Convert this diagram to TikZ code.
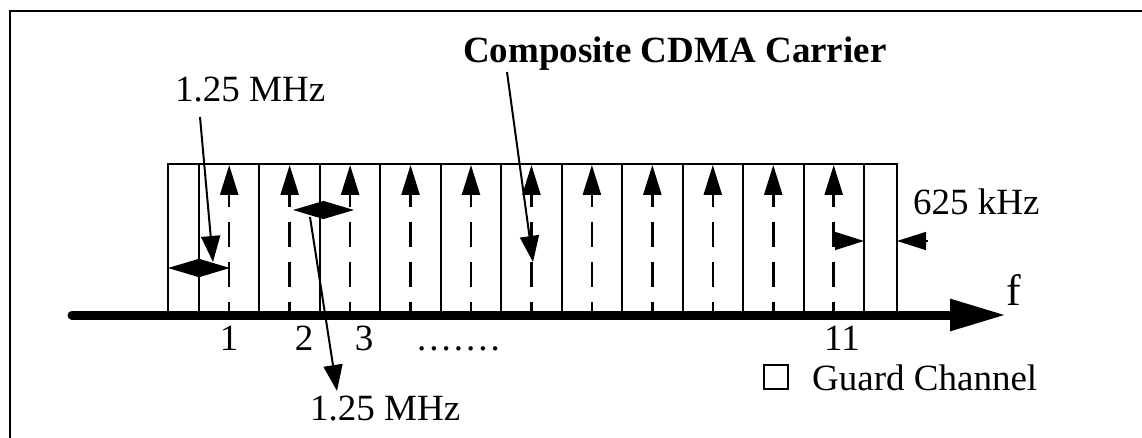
\documentclass[tikz,border=0pt]{standalone}
\usepackage{fontspec}
\setmainfont{Liberation Serif}
\usetikzlibrary{arrows.meta}
\begin{document}
\begin{tikzpicture}[x=1pt,y=-1pt,
  lbl/.style={inner sep=0pt, font=\fontsize{37}{40}\selectfont},
  frameline/.style={line width=2.5pt},
  divider/.style={line width=2pt},
  carrier/.style={line width=2.5pt, dash pattern=on 25pt off 15pt},
  uparrow/.style={line width=2.5pt, -{Triangle[length=30pt,width=18pt]}},
  dbl/.style={line width=1.5pt, {Triangle[length=31pt,width=18pt]}-{Triangle[length=31pt,width=18pt]}},
  half/.style={line width=1.5pt, -{Triangle[length=29pt,width=18pt]}},
  leader/.style={line width=2pt, -{Triangle[length=26pt,width=19pt]}}]
\useasboundingbox (0,0) rectangle (1142,438);
% outer frame (top and left edges)
\draw[frameline] (10,438) -- (10,11) -- (1142,11);
% channel block
\draw[frameline] (168,315) -- (168,164) -- (897,164) -- (897,315);
\foreach \k in {0,...,11} {
  \pgfmathsetmacro\xx{199+\k*60.45}
  \draw[divider] (\xx,164) -- (\xx,315);
}
\foreach \k in {0,...,10} {
  \pgfmathsetmacro\xx{229.2+\k*60.45}
  \draw[carrier] (\xx,182) -- (\xx,315);
  \draw[uparrow] (\xx,196) -- (\xx,165);
}
% frequency axis
\coordinate (axstart) at (72,315);
\coordinate (axend) at (1006,315);
\draw[line width=9pt, line cap=round, -{Triangle[length=56pt,width=30pt]}] (axstart) -- (axend);
\node[inner sep=0pt, anchor=base west, font=\fontsize{44}{46}\selectfont] (f) at (1006,305) {f};
% spacing arrows
\coordinate (d1l) at (168,268); \coordinate (d1r) at (230,268);
\draw[dbl] (d1l) -- (d1r);
\coordinate (d2l) at (293,210); \coordinate (d2r) at (354,210);
\draw[dbl] (d2l) -- (d2r);
\coordinate (g1a) at (835,241); \coordinate (g1b) at (864,241);
\coordinate (g2a) at (928,241); \coordinate (g2b) at (897,241);
\draw[half] (g1a) -- (g1b);
\draw[half] (g2a) -- (g2b);
% labels
\node[lbl, anchor=base west] (mhztop) at (175,102) {1.25 MHz};
\node[lbl, anchor=base west, font=\fontsize{37}{40}\selectfont\bfseries] (comp) at (463,63) {Composite CDMA Carrier};
\node[lbl, anchor=base west] (mhzbot) at (310,420) {1.25 MHz};
\node[lbl, anchor=base west] (khz) at (913,215) {625 kHz};
\node[lbl, anchor=base] (n1) at (229,350) {1};
\node[lbl, anchor=base] (n2) at (304,350) {2};
\node[lbl, anchor=base] (n3) at (364,350) {3};
\node[lbl, anchor=base west] (dots) at (417,350) {.\kern3pt.\kern3pt.\kern3pt.\kern3pt.\kern3pt.\kern3pt.};
\node[lbl, anchor=base] (n11) at (842,350) {11};
\node[draw, line width=2.5pt, inner sep=0pt, minimum size=24pt] (gbox) at (776,377) {};
\node[lbl, anchor=base west] (guard) at (812,390) {Guard Channel};
% leaders
\coordinate (l1s) at (200,117); \coordinate (l1e) at (213,262);
\draw[leader] (l1s) -- (l1e);
\coordinate (l2s) at (507,72); \coordinate (l2e) at (533,262);
\draw[leader] (l2s) -- (l2e);
\coordinate (l3s) at (310,217); \coordinate (l3e) at (337,391);
\draw[leader] (l3s) -- (l3e);
\end{tikzpicture}
\end{document}
